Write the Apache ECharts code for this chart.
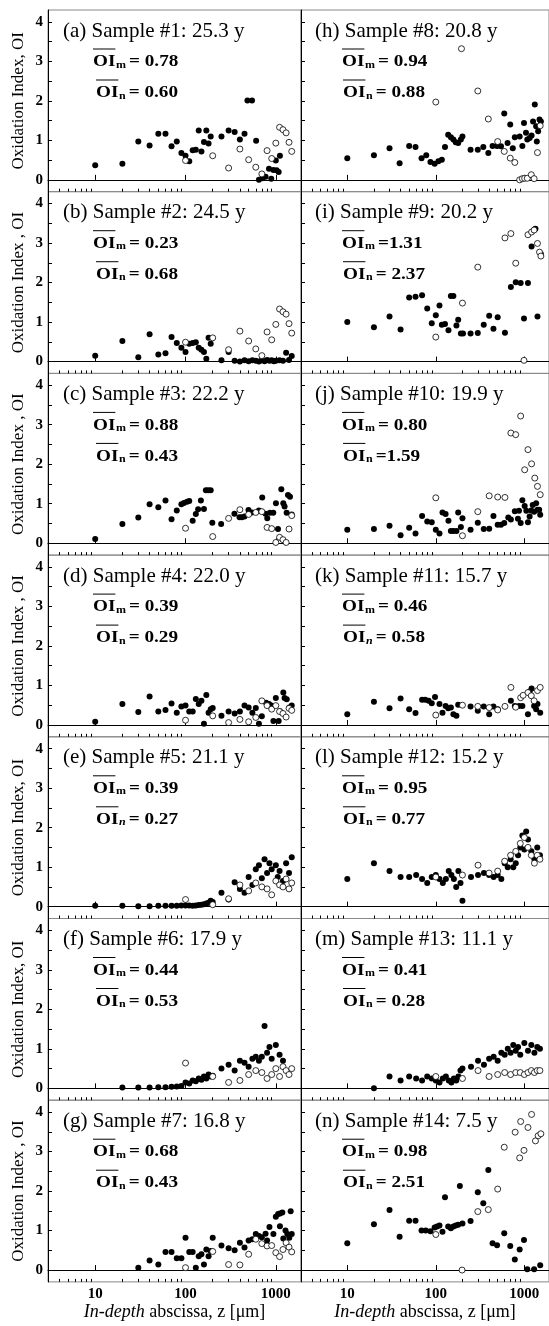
<!DOCTYPE html>
<html>
<head>
<meta charset="utf-8">
<script src="https://cdn.jsdelivr.net/npm/echarts@6/dist/echarts.min.js"></script>
<style>
html, body { margin: 0; padding: 0; background: #fff; }
#chart { width: 549px; height: 1326px; }
</style>
</head>
<body>
<div id="chart"></div>
<script>
// panel texts
var letters = ['a', 'b', 'c', 'd', 'e', 'f', 'g', 'h', 'i', 'j', 'k', 'l', 'm', 'n'];
var sampleNo = ['#1', '#2', '#3', '#4', '#5', '#6', '#7', '#8', '#9', '#10', '#11', '#12', '#13', '#14'];
var ages = ['25.3', '24.5', '22.2', '22.0', '21.1', '17.9', '16.8', '20.8', '20.2', '19.9', '15.7', '15.2', '11.1', '7.5'];
var oiM = ['= 0.78', '= 0.23', '= 0.88', '= 0.39', '= 0.39', '= 0.44', '= 0.68', '= 0.94', '=1.31', '= 0.80', '= 0.46', '= 0.95', '= 0.41', '= 0.98'];
var oiN = ['= 0.60', '= 0.68', '= 0.43', '= 0.29', '= 0.27', '= 0.53', '= 0.43', '= 0.88', '= 2.37', '=1.59', '= 0.58', '= 0.77', '= 0.28', '= 2.51'];
var italicN = [false, false, false, false, true, false, false, false, false, false, true, false, false, false];
var yNames = ['Oxidation Index, OI', 'Oxidation Index , OI', 'Oxidation Index , OI', 'Oxidation Index , OI',
              'Oxidation Index, OI', 'Oxidation Index, OI', 'Oxidation Index , OI'];

// axis ticks (depth in um, shown on a log10 scale)
var xMajor = [10, 100, 1000];
var xMinor = [4, 5, 6, 7, 8, 9, 20, 30, 40, 50, 60, 70, 80, 90, 200, 300, 400, 500, 600, 700, 800, 900];
var xRange = [3, 1900];
var yTicks = [0, 0.5, 1, 1.5, 2, 2.5, 3, 3.5, 4];
var yLabels = [0, 1, 2, 3, 4];

// [depth z (um), OI]   filled = OI_m, open = OI_n
var filled_a = [[10,0.37],[20,0.41],[30,0.97],[40,0.87],[50,1.17],[60,1.17],[70,0.85],[80,0.97],[90,0.68],[100,0.61],[110,0.47],[120,0.75],[130,0.76],[140,1.25],[150,0.72],[160,0.96],[170,1.25],[180,0.92],[190,1.10],[250,1.10],[300,1.25],[350,1.21],[400,1.02],[450,1.17],[485,2.01],[545,2.01],[605,0.99],[650,0.0],[710,0.04],[770,0.08],[840,0.28],[890,0.03],[940,0.25],[1000,0.49],[1020,0.24],[1075,0.20],[1110,0.61]];
var open_a = [[100,0.49],[200,0.61],[300,0.30],[400,0.78],[500,0.51],[600,0.32],[700,0.15],[800,0.74],[900,0.54],[1000,0.93],[1100,1.33],[1200,1.27],[1300,1.19],[1400,0.95],[1500,0.72]];

var filled_b = [[10,0.15],[20,0.52],[30,0.11],[40,0.69],[50,0.18],[60,0.21],[70,0.62],[80,0.47],[90,0.35],[100,0.24],[110,0.45],[120,0.47],[130,0.49],[140,0.35],[150,0.30],[160,0.24],[170,0.07],[180,0.60],[190,0.45],[250,0.03],[300,0.24],[350,0.02],[400,0.0],[450,0.03],[500,0.01],[550,0.03],[600,0.02],[650,0.0],[700,0.03],[750,0.01],[800,0.04],[850,0.02],[900,0.03],[950,0.01],[1000,0.02],[1100,0.03],[1200,0.02],[1300,0.22],[1400,0.04],[1500,0.14]];
var open_b = [[100,0.49],[200,0.60],[300,0.30],[400,0.77],[500,0.52],[600,0.32],[700,0.15],[800,0.75],[900,0.55],[1000,0.94],[1100,1.33],[1200,1.26],[1300,1.20],[1400,0.96],[1500,0.72]];

var filled_c = [[10,0.11],[20,0.49],[30,0.65],[40,0.99],[50,0.91],[60,1.08],[70,0.61],[80,0.83],[90,0.99],[96,1.02],[104,1.05],[110,1.07],[120,0.57],[130,0.74],[138,0.86],[148,1.08],[160,0.87],[168,1.34],[178,1.34],[190,1.34],[198,0.52],[248,0.49],[348,0.75],[396,0.66],[420,0.66],[450,0.68],[498,0.84],[545,0.78],[649,0.83],[707,1.16],[770,0.75],[804,0.63],[860,0.77],[937,0.77],[1003,1.01],[1057,0.36],[1150,1.37],[1210,1.01],[1250,0.93],[1317,0.77],[1363,1.22],[1435,1.18],[1500,0.73]];
var open_c = [[100,0.38],[200,0.17],[300,0.63],[400,0.85],[500,0.73],[600,0.78],[700,0.80],[800,0.40],[900,0.37],[1000,0.02],[1100,0.15],[1200,0.09],[1300,0.02],[1400,0.36],[1500,0.70]];

var filled_d = [[10,0.08],[20,0.53],[30,0.33],[40,0.72],[50,0.34],[60,0.38],[70,0.54],[80,0.31],[90,0.47],[100,0.49],[110,0.34],[120,0.34],[130,0.66],[140,0.53],[150,0.61],[160,0.03],[170,0.76],[180,0.31],[190,0.40],[200,0.43],[250,0.23],[300,0.34],[350,0.29],[400,0.34],[450,0.49],[500,0.44],[550,0.31],[600,0.43],[650,0.03],[700,0.22],[780,0.56],[840,0.53],[890,0.49],[940,0.10],[1000,0.68],[1075,0.10],[1110,0.35],[1210,0.82],[1250,0.68],[1320,0.65],[1410,0.44],[1500,0.49]];
var open_d = [[100,0.12],[200,0.23],[300,0.06],[400,0.14],[500,0.08],[600,0.19],[700,0.61],[800,0.49],[900,0.40],[1000,0.49],[1100,0.34],[1200,0.29],[1300,0.20],[1400,0.42],[1500,0.37]];

var filled_e = [[10,0.02],[20,0.02],[30,0.01],[40,0.01],[50,0.02],[60,0.02],[70,0.02],[80,0.02],[90,0.03],[100,0.03],[110,0.03],[120,0.02],[130,0.03],[140,0.04],[150,0.05],[160,0.06],[170,0.08],[180,0.10],[190,0.15],[200,0.12],[250,0.35],[300,0.18],[350,0.62],[400,0.45],[450,0.35],[500,0.75],[550,0.55],[600,0.95],[650,1.05],[700,0.72],[750,1.20],[800,0.85],[850,1.10],[900,0.95],[1000,1.05],[1050,0.75],[1100,0.90],[1200,0.65],[1300,1.10],[1400,0.85],[1500,1.25]];
var open_e = [[100,0.18],[200,0.05],[300,0.20],[400,0.55],[500,0.40],[600,0.60],[700,0.50],[800,0.45],[900,0.30],[1000,0.65],[1100,0.55],[1200,0.50],[1300,0.70],[1400,0.45],[1500,0.60]];

var filled_f = [[20,0.02],[30,0.02],[40,0.02],[50,0.03],[60,0.03],[70,0.04],[80,0.05],[90,0.06],[100,0.15],[110,0.12],[120,0.20],[130,0.18],[140,0.25],[150,0.22],[160,0.30],[170,0.25],[180,0.35],[190,0.30],[200,0.32],[250,0.50],[300,0.60],[350,0.45],[400,0.70],[450,0.65],[500,0.55],[550,0.75],[600,0.80],[650,0.70],[700,0.80],[750,1.58],[800,0.90],[850,1.05],[900,0.75],[1000,1.10],[1100,0.85],[1200,0.70]];
var open_f = [[100,0.64],[200,0.30],[300,0.15],[400,0.20],[500,0.35],[600,0.45],[700,0.40],[800,0.25],[900,0.35],[1000,0.50],[1100,0.30],[1200,0.55],[1300,0.45],[1400,0.35],[1500,0.50]];

var filled_g = [[30,0.06],[40,0.24],[50,0.14],[60,0.46],[70,0.46],[80,0.30],[90,0.30],[100,0.82],[110,0.46],[120,0.46],[130,0.06],[140,0.35],[150,0.40],[160,0.14],[170,0.52],[180,0.35],[190,0.48],[200,0.82],[250,0.62],[300,0.55],[350,0.50],[400,0.69],[450,0.57],[500,0.75],[550,0.78],[600,0.91],[650,0.86],[700,0.83],[770,0.92],[800,0.75],[850,1.09],[940,0.91],[1000,1.35],[1060,1.42],[1110,1.43],[1180,1.46],[1110,1.11],[1210,0.80],[1280,1.00],[1340,0.91],[1410,0.82],[1460,1.49],[1500,0.91]];
var open_g = [[100,0.06],[200,0.47],[300,0.14],[400,0.13],[500,0.40],[600,0.78],[700,0.67],[800,0.61],[900,0.62],[1000,0.44],[1100,0.34],[1200,0.52],[1300,0.69],[1400,0.58],[1500,0.46]];

var filled_h = [[10,0.55],[20,0.62],[30,0.80],[39,0.42],[50,0.86],[59,0.83],[69,0.55],[78,0.62],[87,0.45],[97,0.41],[107,0.47],[117,0.51],[127,0.83],[138,1.14],[148,1.08],[158,1.02],[168,0.95],[179,0.93],[192,1.02],[200,1.10],[247,0.76],[298,0.76],[344,0.83],[392,0.68],[438,0.86],[492,0.86],[545,0.85],[593,1.68],[647,0.93],[693,1.40],[741,0.80],[781,1.08],[886,1.10],[950,0.86],[991,1.44],[1044,1.19],[1080,1.02],[1148,1.06],[1208,1.12],[1255,1.48],[1313,1.91],[1360,1.36],[1384,0.97],[1433,1.23],[1485,1.53],[1538,1.48]];
var open_h = [[100,1.97],[195,3.32],[298,2.25],[392,1.54],[500,0.97],[593,0.72],[693,0.55],[781,0.44],[886,0.0],[950,0.03],[1009,0.04],[1080,0.04],[1198,0.13],[1290,0.03],[1408,0.69],[1512,1.37]];

var filled_i = [[10,1.00],[20,0.87],[30,1.14],[40,0.81],[50,1.62],[59,1.64],[70,1.68],[80,1.34],[90,0.97],[100,1.17],[110,1.42],[117,0.93],[127,0.95],[139,0.79],[148,1.66],[158,1.66],[171,0.91],[179,1.06],[192,0.71],[203,0.71],[247,0.71],[298,0.72],[348,0.93],[401,1.16],[448,0.83],[500,1.12],[604,0.73],[705,1.89],[800,2.01],[909,1.99],[991,1.09],[1099,1.99],[1208,2.91],[1336,3.36],[1408,1.14],[1538,2.72]];
var open_i = [[100,0.62],[200,1.48],[298,2.39],[604,3.13],[705,3.24],[800,2.49],[991,0.03],[1099,3.21],[1208,3.28],[1290,3.33],[1408,2.99],[1485,2.77],[1538,2.67]];

var filled_j = [[10,0.34],[20,0.36],[30,0.44],[40,0.20],[50,0.39],[59,0.25],[70,0.69],[80,0.55],[90,0.53],[100,0.34],[110,0.25],[119,0.78],[129,0.74],[139,0.57],[148,0.31],[158,0.31],[171,0.31],[179,0.78],[192,0.41],[200,0.63],[247,0.34],[298,0.52],[348,0.36],[401,0.37],[448,0.69],[500,0.47],[545,0.47],[593,0.51],[659,0.65],[705,0.60],[781,0.81],[847,0.62],[870,0.82],[909,0.51],[950,1.09],[1009,0.94],[1053,0.82],[1099,0.53],[1148,0.68],[1198,0.83],[1244,0.97],[1290,0.80],[1360,1.01],[1408,0.85],[1472,0.85],[1512,0.72]];
var open_j = [[100,1.15],[200,0.19],[298,0.80],[401,1.20],[500,1.17],[604,1.16],[705,2.79],[800,2.75],[909,3.22],[1009,1.86],[1099,2.37],[1208,2.01],[1313,1.65],[1408,1.44],[1512,1.23]];

var filled_k = [[10,0.27],[20,0.59],[30,0.42],[40,0.67],[50,0.40],[59,0.30],[70,0.64],[76,0.64],[83,0.61],[90,0.55],[98,0.71],[110,0.53],[119,0.31],[129,0.48],[138,0.42],[148,0.44],[158,0.27],[171,0.23],[179,0.51],[247,0.47],[298,0.36],[348,0.47],[401,0.27],[448,0.47],[500,0.40],[705,0.61],[781,0.48],[870,0.48],[950,0.48],[1099,0.27],[1148,0.85],[1208,0.92],[1290,0.48],[1360,0.40],[1408,0.53],[1512,0.31]];
var open_k = [[100,0.25],[200,0.50],[298,0.47],[401,0.44],[500,0.38],[604,0.47],[705,0.95],[800,0.45],[909,0.69],[970,0.75],[1099,0.82],[1198,0.74],[1290,0.61],[1408,0.87],[1512,0.95]];

var filled_l = [[10,0.70],[20,1.10],[30,0.90],[40,0.75],[50,0.75],[60,0.80],[70,0.70],[80,0.60],[90,0.75],[100,0.80],[110,0.70],[120,0.60],[130,0.70],[140,0.90],[150,0.80],[160,0.70],[170,0.50],[180,0.90],[190,0.60],[200,0.15],[250,0.75],[300,0.80],[350,0.85],[400,0.80],[450,0.75],[500,0.80],[550,0.70],[600,1.10],[650,1.00],[700,1.20],[750,1.00],[800,1.10],[850,1.30],[900,1.50],[950,1.80],[1000,1.45],[1050,1.90],[1100,1.70],[1200,1.40],[1300,1.20],[1400,1.50],[1500,1.30]];
var open_l = [[100,0.75],[200,0.80],[300,1.05],[400,0.85],[500,0.90],[600,1.15],[700,1.30],[800,1.40],[900,1.60],[1000,1.75],[1100,1.50],[1200,1.30],[1300,1.10],[1400,1.30],[1500,1.20]];

var filled_m = [[20,0.0],[30,0.30],[40,0.20],[50,0.30],[60,0.25],[70,0.20],[80,0.30],[90,0.25],[100,0.20],[110,0.15],[120,0.25],[130,0.30],[140,0.20],[150,0.15],[160,0.25],[170,0.20],[180,0.30],[190,0.45],[200,0.50],[250,0.55],[300,0.70],[350,0.60],[400,0.75],[450,0.80],[500,0.70],[550,0.90],[600,0.85],[650,1.00],[700,0.90],[750,1.10],[800,0.95],[850,1.05],[900,0.85],[1000,1.15],[1100,0.95],[1200,1.10],[1300,0.90],[1400,1.05],[1500,1.00]];
var open_m = [[100,0.30],[200,0.25],[300,0.45],[400,0.30],[500,0.35],[600,0.40],[700,0.35],[800,0.40],[900,0.40],[1000,0.35],[1100,0.40],[1200,0.45],[1300,0.40],[1400,0.45],[1500,0.45]];

var filled_n = [[10,0.68],[20,1.16],[30,1.52],[39,0.84],[50,1.25],[59,1.25],[69,1.00],[77,1.00],[87,0.98],[97,1.08],[103,1.10],[110,1.13],[119,0.97],[127,1.84],[138,1.10],[148,1.06],[158,1.10],[168,1.13],[179,1.15],[187,2.13],[200,1.18],[247,1.24],[298,1.97],[344,1.69],[392,2.53],[438,0.68],[492,0.63],[593,0.93],[693,0.61],[781,0.27],[886,0.52],[991,0.76],[1080,0.02],[1290,0.02],[1512,0.12]];
var open_n = [[100,0.90],[198,0.0],[298,1.48],[392,1.53],[500,2.05],[593,3.11],[788,3.49],[886,2.84],[909,3.76],[991,3.03],[1099,3.61],[1208,3.94],[1336,3.27],[1433,3.40],[1538,3.45]];

var filledSets = [filled_a, filled_b, filled_c, filled_d, filled_e, filled_f, filled_g,
                  filled_h, filled_i, filled_j, filled_k, filled_l, filled_m, filled_n];
var openSets = [open_a, open_b, open_c, open_d, open_e, open_f, open_g,
                open_h, open_i, open_j, open_k, open_l, open_m, open_n];

var chart = echarts.init(document.getElementById('chart'));
var serif = '"Liberation Serif", "Times New Roman", serif';

// x is drawn on a value axis holding log10(z)
function lg(v) { return Math.log(v) / Math.LN10; }
function toLog(arr) { return arr.map(function (p) { return [lg(p[0]), p[1]]; }); }

// text widths for the OI labels
var mctx = document.createElement('canvas').getContext('2d');
function textW(font, s) { mctx.font = font; return mctx.measureText(s).width; }

var rowTop = 10, rowH = 181.7;
var colLeft = [48, 301], colW = 253;
var fMain = 'bold 16px ' + serif;

// OI with overline, subscript and value
function oiLabel(x, y, sub, subItalic, value) {
    var subFont = (subItalic ? 'italic ' : '') + 'bold 10px ' + serif;
    var wOI = textW(fMain, 'OI');
    var wSub = textW(subFont, sub);
    return {
        type: 'group', x: x, y: y, scaleX: 1.2,
        children: [
            { type: 'text', x: 0, y: 0, style: { text: 'OI', font: fMain, fill: '#000', verticalAlign: 'middle' } },
            { type: 'line', shape: { x1: 0, y1: -13, x2: wOI, y2: -13 }, style: { stroke: '#000', lineWidth: 1 } },
            { type: 'text', x: wOI + 0.5, y: 3, style: { text: sub, font: subFont, fill: '#000', verticalAlign: 'middle' } },
            { type: 'text', x: wOI + wSub + 3, y: 0, style: { text: value, font: fMain, fill: '#000', verticalAlign: 'middle' } }
        ]
    };
}

var grids = [], xAxes = [], yAxes = [], series = [], graphics = [];
var majorLog = xMajor.map(lg), minorLog = xMinor.map(lg);

for (var i = 0; i < 14; i++) {
    var col = i < 7 ? 0 : 1;
    var row = i % 7;
    var panelY = rowTop + row * rowH;
    var panelX = colLeft[col];
    var bottomRow = row === 6;

    grids.push({ left: panelX, top: panelY, width: colW, height: rowH, show: true, borderColor: '#888', borderWidth: 1 });

    // major ticks and labels
    var xa = {
        gridIndex: i, type: 'value', min: lg(xRange[0]), max: lg(xRange[1]),
        axisLine: { show: true, lineStyle: { color: '#000', width: 1 } },
        axisTick: { show: true, inside: true, length: 5, customValues: majorLog, lineStyle: { color: '#000' } },
        axisLabel: {
            show: bottomRow, customValues: majorLog, margin: 5,
            fontFamily: serif, fontWeight: 'bold', fontSize: 15, color: '#000',
            formatter: function (v) { return String(Math.round(Math.pow(10, v))); }
        },
        splitLine: { show: false }
    };
    if (bottomRow) {
        xa.name = '{i|In-depth} abscissa, z [\u03bcm]';
        xa.nameLocation = 'middle';
        xa.nameGap = 21;
        xa.nameTextStyle = {
            fontFamily: serif, fontSize: 18, color: '#000',
            rich: { i: { fontFamily: serif, fontSize: 18, fontStyle: 'italic', color: '#000' } }
        };
    }
    xAxes.push(xa);
    // minor ticks
    xAxes.push({
        gridIndex: i, type: 'value', min: lg(xRange[0]), max: lg(xRange[1]), position: 'bottom',
        axisLine: { show: false },
        axisTick: { show: true, inside: true, length: 3, customValues: minorLog, lineStyle: { color: '#000' } },
        axisLabel: { show: false },
        splitLine: { show: false }
    });

    var ya = {
        gridIndex: i, type: 'value', min: -0.3, max: 4.3,
        axisLine: { show: true, lineStyle: { color: '#000', width: 1 } },
        axisTick: { show: true, inside: true, length: 4, customValues: yTicks, lineStyle: { color: '#000' } },
        axisLabel: {
            show: col === 0, customValues: yLabels, margin: 5,
            fontFamily: serif, fontWeight: 'bold', fontSize: 15, color: '#000'
        },
        splitLine: { show: false }
    };
    if (col === 0) {
        ya.name = yNames[row];
        ya.nameLocation = 'middle';
        ya.nameGap = 21;
        ya.nameTextStyle = { fontFamily: serif, fontSize: 17, color: '#000' };
    }
    yAxes.push(ya);

    series.push({
        type: 'scatter', xAxisIndex: 2 * i, yAxisIndex: i, data: toLog(filledSets[i]),
        symbol: 'circle', symbolSize: 6, itemStyle: { color: '#000', opacity: 1 }
    });
    series.push({
        type: 'scatter', xAxisIndex: 2 * i, yAxisIndex: i, data: toLog(openSets[i]),
        symbol: 'circle', symbolSize: 6,
        itemStyle: { color: '#fff', borderColor: '#000', borderWidth: 0.8, opacity: 1 }
    });

    var tx = panelX + (col === 0 ? 15 : 14);
    var ox = panelX + (col === 0 ? 45 : 41);
    graphics.push({
        type: 'text', x: tx, y: panelY + 21,
        style: {
            text: '(' + letters[i] + ') Sample ' + sampleNo[i] + ': ' + ages[i] + ' y',
            font: '21px ' + serif, fill: '#000', verticalAlign: 'middle'
        }
    });
    graphics.push(oiLabel(ox, panelY + 52, 'm', false, oiM[i]));
    graphics.push(oiLabel(ox + (col === 0 ? 3 : 1), panelY + 83, 'n', italicN[i], oiN[i]));
}

chart.setOption({
    animation: false,
    backgroundColor: '#fff',
    grid: grids,
    xAxis: xAxes,
    yAxis: yAxes,
    series: series,
    graphic: graphics
});
</script>
</body>
</html>
